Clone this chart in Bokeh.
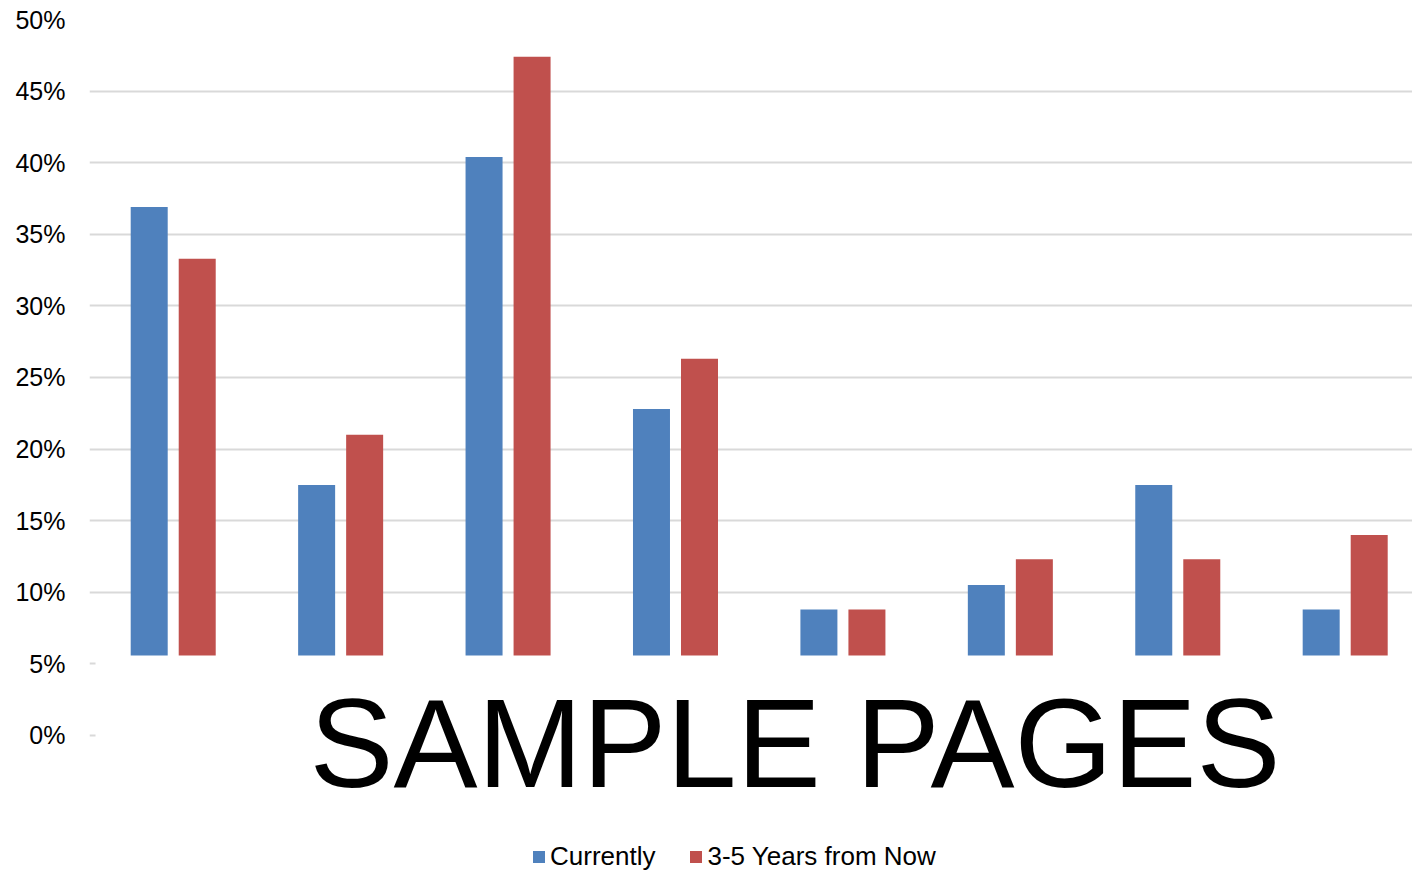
from bokeh.plotting import figure
from bokeh.models import (Range1d, FixedTicker, ColumnDataSource, Legend, LegendItem,
                          PrintfTickFormatter)
from bokeh.transform import dodge
from bokeh.core.properties import value
from bokeh.embed import file_html
from bokeh.resources import INLINE

# ---- data ----
categories = ["Category 1", "Category 2", "Category 3", "Category 4",
              "Category 5", "Category 6", "Category 7", "Category 8"]
currently = [36.9, 17.5, 40.4, 22.8, 8.8, 10.5, 17.5, 8.8]
future = [33.3, 21.0, 47.4, 26.3, 8.8, 12.3, 12.3, 14.0]
series_names = ["Currently", "3-5 Years from Now"]
y_ticks = [0, 5, 10, 15, 20, 25, 30, 35, 40, 45, 50]
watermark = "SAMPLE PAGES"

FONT = "Liberation Sans"
BLUE = "#4F81BD"
RED = "#C0504D"

p = figure(width=1412, height=870,
           x_range=Range1d(-0.5, 7.402), y_range=Range1d(-9.43, 50),
           x_axis_location=None,
           output_backend="svg", toolbar_location=None,
           min_border_left=89, min_border_right=0,
           min_border_top=19, min_border_bottom=0)
p.outline_line_color = None
p.xgrid.visible = False

p.yaxis.ticker = FixedTicker(ticks=y_ticks)
p.yaxis.formatter = PrintfTickFormatter(format="%d%%")
p.yaxis.axis_line_color = None
p.yaxis.major_tick_line_color = None
p.yaxis.minor_tick_line_color = None
p.yaxis.major_label_text_font = FONT
p.yaxis.major_label_text_font_size = "25px"
p.yaxis.major_label_text_color = "#000000"
p.yaxis.major_label_standoff = 18
p.ygrid.ticker = FixedTicker(ticks=y_ticks)
p.ygrid.grid_line_color = "#d9d9d9"
p.ygrid.grid_line_width = 2

src = ColumnDataSource(dict(x=list(range(len(categories))), cur=currently, fut=future))
r1 = p.vbar(x=dodge("x", -0.1434, range=p.x_range), top="cur", bottom=0, width=0.221,
            source=src, fill_color=BLUE, line_color=None)
r2 = p.vbar(x=dodge("x", 0.1434, range=p.x_range), top="fut", bottom=0, width=0.221,
            source=src, fill_color=RED, line_color=None)

# white watermark panel covering the lower part of the chart
p.quad(left=[-0.464], right=[8], bottom=[-20], top=[5.59],
       fill_color="white", line_color=None)
p.text(x=[3.714], y=[-0.56], text=[watermark], text_font=value(FONT),
       text_font_size="126px", text_align="center", text_baseline="alphabetic",
       text_color="#000000")

legend = Legend(items=[LegendItem(label=series_names[0], renderers=[r1]),
                       LegendItem(label=series_names[1], renderers=[r2])],
                location=(442, -2), orientation="horizontal",
                glyph_width=15, glyph_height=15, label_standoff=4, spacing=33,
                padding=0, margin=0, border_line_color=None,
                background_fill_alpha=0,
                label_text_font=FONT, label_text_font_size="26px",
                label_text_color="#000000")
p.add_layout(legend)

open("out.html", "w").write(file_html(p, INLINE))
